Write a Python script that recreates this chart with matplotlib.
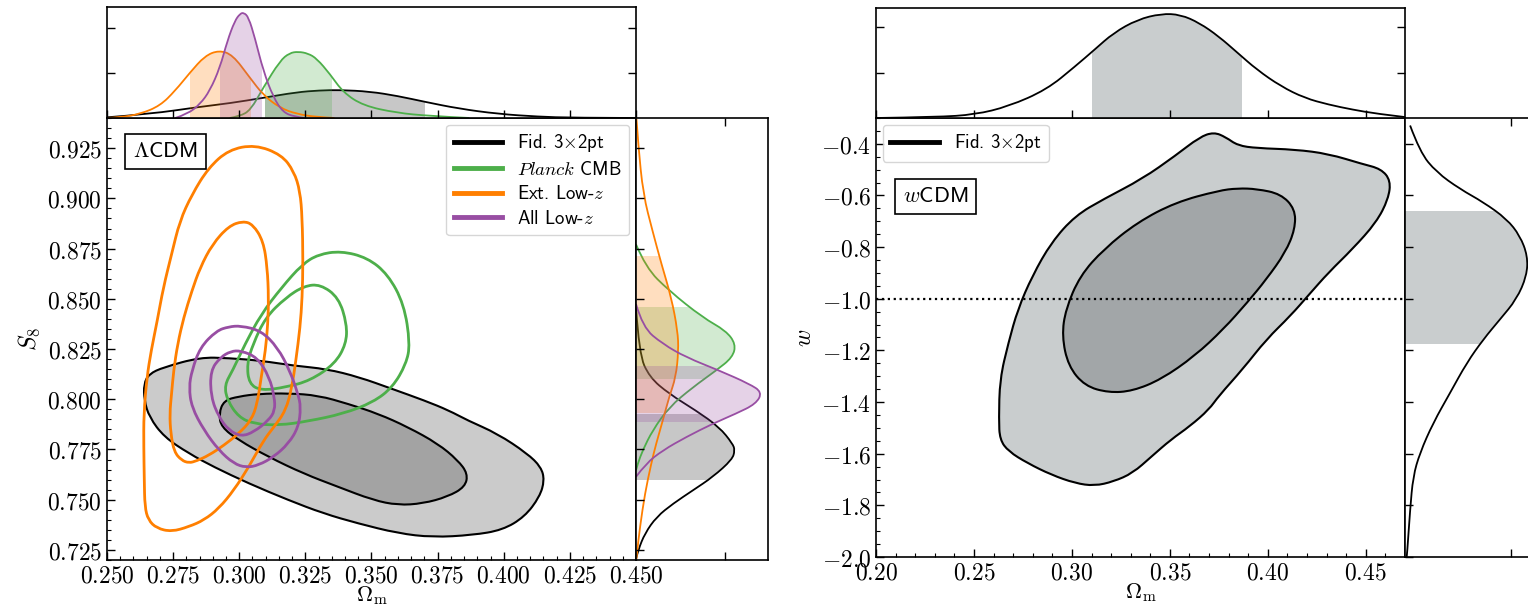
import matplotlib.pyplot as plt
from matplotlib.lines import Line2D
from matplotlib.patches import Rectangle, PathPatch
from matplotlib.path import Path
from matplotlib.ticker import MultipleLocator, FixedLocator, FuncFormatter

plt.rcParams['mathtext.fontset'] = 'cm'
SANS = ['cmss10', 'DejaVu Sans']

GREEN, ORANGE, PURPLE = '#4daf4a', '#ff7f00', '#984ea3'

# ---------------- LCDM panel : 2D contours (Omega_m, S8) ----------------
fid95_om = [0.2713, 0.2852, 0.296, 0.3083, 0.3207, 0.333, 0.3454, 0.3577, 0.3700, 0.3793, 0.3863,
            0.3976, 0.4089, 0.4141, 0.4154, 0.4136, 0.4079, 0.3995, 0.3882, 0.3731, 0.36, 0.3449,
            0.3318, 0.3186, 0.3036, 0.2904, 0.281, 0.2716, 0.266, 0.2641, 0.2639, 0.2659]
fid95_s8 = [0.8159, 0.8209, 0.8205, 0.8192, 0.8167, 0.8151, 0.8110, 0.8052, 0.7994, 0.7944, 0.7895,
            0.7829, 0.773, 0.7663, 0.7597, 0.7515, 0.7415, 0.7349, 0.7324, 0.7313, 0.7333, 0.7382,
            0.7432, 0.7498, 0.7581, 0.7663, 0.773, 0.7812, 0.7911, 0.7994, 0.8077, 0.8126]
fid68_om = [0.3073, 0.3186, 0.3299, 0.3412, 0.3525, 0.3637, 0.3751, 0.3826, 0.3864, 0.3854, 0.3788,
            0.3694, 0.36, 0.3506, 0.3374, 0.3243, 0.3111, 0.2998, 0.2932, 0.2923, 0.2942, 0.2998]
fid68_s8 = [0.8027, 0.803, 0.8019, 0.7977, 0.7928, 0.7862, 0.7779, 0.7697, 0.763, 0.7564, 0.7515,
            0.7481, 0.7473, 0.7498, 0.7564, 0.763, 0.7713, 0.7796, 0.7862, 0.7928, 0.7994, 0.8014]

pl95_om = [0.3384, 0.3484, 0.3562, 0.3623, 0.3646, 0.3631, 0.358, 0.3506, 0.3393, 0.3261, 0.3149,
           0.3055, 0.2998, 0.2955, 0.2944, 0.2975, 0.3022, 0.3083, 0.316, 0.3238, 0.3299]
pl95_s8 = [0.8738, 0.8705, 0.8622, 0.8473, 0.8275, 0.8176, 0.806, 0.7985, 0.7928, 0.7891, 0.787,
           0.7878, 0.7911, 0.7994, 0.807, 0.8143, 0.8275, 0.8424, 0.8556, 0.8672, 0.8721]
pl68_om = [0.3307, 0.3376, 0.3407, 0.3404, 0.3361, 0.3268, 0.3176, 0.3083, 0.3037, 0.3029, 0.3052,
           0.3099, 0.3176, 0.3245]
pl68_s8 = [0.8572, 0.8506, 0.8374, 0.8275, 0.8176, 0.8093, 0.806, 0.8043, 0.8077, 0.8176, 0.8275,
           0.8407, 0.8506, 0.8564]

ext95_om = [0.306, 0.316, 0.3207, 0.323, 0.3238, 0.3241, 0.3238, 0.323, 0.3214, 0.3199, 0.3176,
            0.3130, 0.3092, 0.3036, 0.298, 0.2923, 0.2867, 0.281, 0.2744, 0.2688, 0.2656, 0.2643,
            0.2641, 0.2639, 0.2639, 0.2651, 0.2667, 0.269, 0.2713, 0.2744, 0.2775, 0.2821, 0.2883, 0.296]
ext95_s8 = [0.9267, 0.9217, 0.9134, 0.9035, 0.8903, 0.8688, 0.8506, 0.8358, 0.8192, 0.806, 0.7944,
            0.7860, 0.7796, 0.7663, 0.7548, 0.7457, 0.7399, 0.7366, 0.7341, 0.7358, 0.7399, 0.7465,
            0.7597, 0.7762, 0.7928, 0.811, 0.8242, 0.8391, 0.8556, 0.8721, 0.8887, 0.9019, 0.9151, 0.9242]
ext68_om = [0.3014, 0.3052, 0.3091, 0.3106, 0.3111, 0.3108, 0.3099, 0.3083, 0.3068, 0.3045, 0.2998,
            0.2942, 0.2885, 0.2838, 0.281, 0.2782, 0.2754, 0.2741, 0.2737, 0.2744, 0.2752, 0.2767,
            0.279, 0.2821, 0.2852, 0.2898, 0.296]
ext68_s8 = [0.8887, 0.887, 0.8787, 0.8655, 0.8506, 0.8374, 0.8242, 0.811, 0.7977, 0.7895, 0.7829,
            0.7771, 0.7721, 0.7693, 0.7683, 0.7696, 0.7738, 0.7829, 0.7928, 0.8027, 0.8143, 0.8275,
            0.8407, 0.854, 0.8655, 0.8771, 0.8862]

all95_om = [0.3006, 0.3083, 0.3145, 0.3191, 0.3222, 0.3233, 0.3224, 0.3186, 0.313, 0.3073, 0.3026,
            0.2979, 0.2923, 0.2867, 0.282, 0.281, 0.2821, 0.2852, 0.2914, 0.296]
all95_s8 = [0.8366, 0.8341, 0.8258, 0.8143, 0.8027, 0.7961, 0.7862, 0.7779, 0.7713, 0.7672, 0.766,
            0.768, 0.7746, 0.7845, 0.7961, 0.8060, 0.8143, 0.8258, 0.8341, 0.8361]
all68_om = [0.3006, 0.3068, 0.3114, 0.3133, 0.3135, 0.3111, 0.3055, 0.3008, 0.2961, 0.2923, 0.2893,
            0.2891, 0.2929, 0.2968]
all68_s8 = [0.8242, 0.8209, 0.811, 0.8011, 0.7944, 0.7895, 0.7837, 0.7815, 0.7845, 0.7911, 0.8011,
            0.8143, 0.8209, 0.8239]

# 1D marginals, Omega_m (top panel, density units)
fid_m_om = [0.250, 0.2664, 0.2852, 0.2965, 0.3091, 0.3217, 0.3303, 0.3381, 0.3494, 0.3600, 0.3702,
            0.3829, 0.3980, 0.4130, 0.4262, 0.450]
fid_m_d = [0.3, 1.8, 5.0, 6.6, 9.0, 11.5, 12.3, 12.5, 11.8, 9.8, 7.2, 4.2, 1.8, 0.6, 0.1, 0.0]
pl_m_om = [0.2964, 0.3002, 0.3043, 0.3091, 0.3154, 0.3190, 0.3223, 0.3260, 0.3293, 0.3343, 0.3393,
           0.3469, 0.3595, 0.372, 0.387]
pl_m_d = [0.0, 0.8, 3.5, 13.6, 25.5, 29.0, 29.6, 28.8, 26.5, 19.6, 11.4, 5.5, 2.3, 0.9, 0.0]
ext_m_om = [0.250, 0.2551, 0.2626, 0.2701, 0.2758, 0.2814, 0.287, 0.2923, 0.2975, 0.304, 0.3091,
            0.3154, 0.3217, 0.3293, 0.336]
ext_m_d = [0.0, 0.3, 1.8, 5.5, 12.2, 20.3, 27.7, 30.2, 28.2, 18.0, 10.2, 4.5, 1.8, 0.4, 0.0]
all_m_om = [0.2758, 0.2805, 0.2852, 0.2889, 0.2927, 0.2955, 0.2983, 0.3003, 0.3017, 0.3035, 0.3059,
            0.3091, 0.3129, 0.3166, 0.3209, 0.3246]
all_m_d = [0.0, 1.8, 6.2, 12.2, 22.5, 34.4, 43.3, 46.5, 47.0, 45.0, 35.8, 21.0, 9.2, 2.5, 0.6, 0.0]

# 1D marginals, S8 (right panel, density units)
fid_m_s8 = [0.8457, 0.8226, 0.811, 0.8027, 0.7944, 0.7862, 0.7779, 0.7746, 0.7700, 0.7614, 0.7548,
            0.7481, 0.7415, 0.7333, 0.725, 0.7205]
fid_s_d = [0.0, 0.7, 3.0, 7.4, 13.4, 18.6, 21.6, 22.1, 21.5, 17.2, 12.8, 8.3, 4.6, 2.0, 0.5, 0.0]
pl_m_s8 = [0.8771, 0.8655, 0.854, 0.8407, 0.8341, 0.8275, 0.8209, 0.8143, 0.8060, 0.7961, 0.7845,
           0.7746, 0.7680, 0.7647]
pl_s_d = [0.0, 2.2, 7.4, 14.9, 20.1, 22.3, 21.6, 17.9, 12.7, 7.4, 3.7, 1.5, 0.4, 0.0]
ext_m_s8 = [0.9395, 0.9267, 0.902, 0.8837, 0.8672, 0.8506, 0.8341, 0.8242, 0.811, 0.8011, 0.7895,
            0.7779, 0.768, 0.7531, 0.7366, 0.7233, 0.7205]
ext_s_d = [0.1, 0.5, 1.6, 3.7, 5.7, 7.9, 9.3, 9.5, 8.9, 7.4, 6.0, 4.5, 3.4, 2.0, 0.9, 0.2, 0.1]
all_m_s8 = [0.8474, 0.8358, 0.8275, 0.8209, 0.8143, 0.8077, 0.8035, 0.7977, 0.7928, 0.7878, 0.7812,
            0.7746, 0.768, 0.7614]
all_s_d = [0.0, 1.5, 6.0, 11.2, 18.6, 25.3, 28.2, 26.8, 22.3, 17.1, 11.2, 6.0, 2.2, 0.0]

# 68% bands of the 1D marginals (lo, hi)
fid_band_om, fid_band_s8 = (0.3097, 0.3702), (0.7597, 0.7928)
pl_band_om, pl_band_s8 = (0.3097, 0.3349), (0.8103, 0.8460)
ext_band_om, ext_band_s8 = (0.2814, 0.3043), (0.7931, 0.8713)
all_band_om, all_band_s8 = (0.2927, 0.3086), (0.7886, 0.8168)

# ---------------- wCDM panel ----------------
w95_om = [0.3724, 0.3785, 0.3846, 0.3944, 0.4139, 0.431, 0.448, 0.4578, 0.4627, 0.4615, 0.4554,
          0.4432, 0.431, 0.4212, 0.4115, 0.3993, 0.3871, 0.3749, 0.37, 0.3602, 0.3505, 0.3407,
          0.331, 0.3212, 0.3115, 0.3017, 0.2895, 0.2773, 0.2676, 0.2632, 0.2627, 0.2632, 0.2676,
          0.2724, 0.2798, 0.2895, 0.3017, 0.3163, 0.3359, 0.3529, 0.3651]
w95_w = [-0.3547, -0.3741, -0.4065, -0.4168, -0.422, -0.4388, -0.4776, -0.497, -0.5423, -0.6135,
         -0.704, -0.8075, -0.8981, -0.9822, -1.0662, -1.1568, -1.2732, -1.3767, -1.4286, -1.4935,
         -1.5455, -1.6104, -1.6753, -1.7078, -1.7247, -1.7143, -1.6818, -1.6364, -1.5909, -1.5455,
         -1.4675, -1.3117, -1.1698, -1.0404, -0.911, -0.7816, -0.6781, -0.6135, -0.5358, -0.4453,
         -0.3741]
w68_om = [0.3944, 0.4066, 0.4139, 0.4139, 0.409, 0.3993, 0.3895, 0.3773, 0.3627, 0.3456, 0.331,
          0.3188, 0.3066, 0.2981, 0.2949, 0.2968, 0.3041, 0.3163, 0.3334, 0.3529, 0.3749, 0.3846]
w68_w = [-0.5747, -0.594, -0.6523, -0.7299, -0.8204, -0.924, -1.0145, -1.118, -1.2215, -1.312,
         -1.3573, -1.3638, -1.3379, -1.2603, -1.1439, -1.0404, -0.911, -0.8075, -0.704, -0.6264,
         -0.5811, -0.5721]
wm_om = [0.2, 0.231, 0.2505, 0.2676, 0.2871, 0.3017, 0.3115, 0.3212, 0.3334, 0.3456, 0.3554,
         0.3651, 0.3749, 0.3846, 0.3944, 0.4066, 0.4188, 0.431, 0.4432, 0.4554, 0.47]
wm_om_d = [0.0, 0.4, 1.5, 5.1, 12.5, 22.8, 30.1, 37.5, 43.4, 46.0, 45.6, 41.9, 36.0, 28.7, 21.3,
           14.0, 8.8, 5.9, 3.7, 1.9, 0.4]
wm_w = [-0.329, -0.432, -0.51, -0.575, -0.626, -0.691, -0.756, -0.834, -0.911, -1.002, -1.080,
        -1.157, -1.248, -1.364, -1.481, -1.597, -1.688, -1.817, -1.986, -2.0]
wm_w_d = [0.12, 0.35, 0.74, 1.29, 1.84, 2.39, 2.70, 2.88, 2.86, 2.62, 2.23, 1.84, 1.45, 1.06, 0.66,
          0.35, 0.19, 0.12, 0.05, 0.04]
w_band_om, w_band_w = (0.3102, 0.3866), (-1.177, -0.659)

legend_labels = ['Fid. 3$\\times$2pt', '$\\mathit{Planck}$ CMB', 'Ext. Low-$z$', 'All Low-$z$']
legend_colors = ['k', GREEN, ORANGE, PURPLE]

# ---------------- figure ----------------
W, H = 1528, 608
fig = plt.figure(figsize=(W / 100, H / 100), dpi=100)
TICKSIZE = 17


def add_ax(l, t, r, b):
    return fig.add_axes([l / W, 1 - b / H, (r - l) / W, (b - t) / H])


def style(ax):
    ax.tick_params(which='both', direction='in', top=False, right=False, labelsize=TICKSIZE)
    ax.tick_params(which='major', length=6, width=1)
    ax.tick_params(which='minor', length=3, width=0.8)
    ax.tick_params(axis='x', pad=2.5)
    for s in ax.spines.values():
        s.set_linewidth(1.2)


def smooth(xs, ys, closed=False):
    # quadratic bezier path through the read points (drawn by matplotlib's renderer)
    p = list(zip(xs, ys))
    n = len(p)

    def mid(a, b):
        return ((a[0] + b[0]) / 2, (a[1] + b[1]) / 2)

    if closed:
        verts, codes = [mid(p[-1], p[0])], [Path.MOVETO]
        for i in range(n):
            verts += [p[i], mid(p[i], p[(i + 1) % n])]
            codes += [Path.CURVE3, Path.CURVE3]
        verts.append(verts[0])
        codes.append(Path.CLOSEPOLY)
    else:
        verts, codes = [p[0]], [Path.MOVETO]
        for i in range(1, n - 1):
            end = p[i + 1] if i == n - 2 else mid(p[i], p[i + 1])
            verts += [p[i], end]
            codes += [Path.CURVE3, Path.CURVE3]
    return verts, codes


def contour(ax, xs, ys, fc, ec, lw, z):
    v, c = smooth(xs, ys, closed=True)
    ax.add_patch(PathPatch(Path(v, c), fc=fc, ec=ec, lw=lw, zorder=z))


def band(ax, x, d, lim, color, alpha, vertical=False, lw=1.3):
    if vertical:
        v, c = smooth(d, x)
        base = [(0, x[-1]), (0, x[0]), (0, x[0])]
        clip = Rectangle((0, lim[0]), 1e3, lim[1] - lim[0], transform=ax.transData)
    else:
        v, c = smooth(x, d)
        base = [(x[-1], 0), (x[0], 0), (x[0], 0)]
        clip = Rectangle((lim[0], 0), lim[1] - lim[0], 1e3, transform=ax.transData)
    fill = PathPatch(Path(v + base, c + [Path.LINETO, Path.LINETO, Path.CLOSEPOLY]),
                     fc=color, alpha=alpha, lw=0)
    ax.add_patch(fill)
    fill.set_clip_path(clip)
    ax.add_patch(PathPatch(Path(v, c), fc='none', ec=color if alpha < 1 else 'k', lw=lw))


def marg_ticks(ax, xt, yt, right=False, top=False):
    ax.tick_params(which='both', labelbottom=False, labelleft=False, right=right, top=top)
    ax.minorticks_off()
    ax.xaxis.set_major_locator(FixedLocator(xt) if isinstance(xt, list) else MultipleLocator(xt))
    ax.yaxis.set_major_locator(FixedLocator(yt) if isinstance(yt, list) else MultipleLocator(yt))


fmt3 = FuncFormatter(lambda v, p: f'${v:.3f}$')
fmt2 = FuncFormatter(lambda v, p: f'${v:.2f}$')
fmt1 = FuncFormatter(lambda v, p: f'${v:.1f}$')

# ---- LCDM main
axL = add_ax(107, 118, 636, 560)
style(axL)
contour(axL, fid95_om, fid95_s8, '#cbcbcb', 'k', 1.5, 1)
contour(axL, fid68_om, fid68_s8, '#a3a3a3', 'k', 1.5, 2)
for xs, ys, col in [(pl95_om, pl95_s8, GREEN), (pl68_om, pl68_s8, GREEN),
                    (ext95_om, ext95_s8, ORANGE), (ext68_om, ext68_s8, ORANGE),
                    (all95_om, all95_s8, PURPLE), (all68_om, all68_s8, PURPLE)]:
    contour(axL, xs, ys, 'none', col, 2.0, 3)
axL.set_xlim(0.25, 0.45)
axL.set_ylim(0.72, 0.94)
axL.xaxis.set_major_locator(MultipleLocator(0.025))
axL.xaxis.set_minor_locator(MultipleLocator(0.005))
axL.yaxis.set_major_locator(MultipleLocator(0.025))
axL.yaxis.set_minor_locator(MultipleLocator(0.005))
axL.xaxis.set_major_formatter(fmt3)
axL.yaxis.set_major_formatter(fmt3)
axL.set_xlabel(r'$\Omega_{\rm m}$', fontsize=16, labelpad=-2)
axL.set_ylabel(r'$S_8$', fontsize=17, labelpad=4)
handles = [Line2D([], [], color=c, lw=3.5) for c in legend_colors]
axL.legend(handles, legend_labels, loc='upper right', prop={'family': SANS, 'size': 13.5},
           handlelength=2.6, edgecolor='#cccccc', borderaxespad=0.35, labelspacing=0.35)
axL.text(0.049, 0.946, r'$\Lambda$CDM', transform=axL.transAxes, va='top', ha='left',
         fontsize=16, family=SANS,
         bbox=dict(boxstyle='square,pad=0.35', fc='white', ec='k', lw=1.2))

# ---- LCDM top marginal
axLt = add_ax(107, 7, 636, 118)
style(axLt)
band(axLt, fid_m_om, fid_m_d, fid_band_om, 'k', 0.22)
band(axLt, pl_m_om, pl_m_d, pl_band_om, GREEN, 0.25)
band(axLt, ext_m_om, ext_m_d, ext_band_om, ORANGE, 0.25)
band(axLt, all_m_om, all_m_d, all_band_om, PURPLE, 0.25)
axLt.set_xlim(0.25, 0.45)
axLt.set_ylim(0, 49.5)
marg_ticks(axLt, 0.025, [20, 40], right=True)

# ---- LCDM right marginal
axLr = add_ax(636, 118, 768, 560)
style(axLr)
band(axLr, fid_m_s8, fid_s_d, fid_band_s8, 'k', 0.22, vertical=True)
band(axLr, pl_m_s8, pl_s_d, pl_band_s8, GREEN, 0.25, vertical=True)
band(axLr, ext_m_s8, ext_s_d, ext_band_s8, ORANGE, 0.25, vertical=True)
band(axLr, all_m_s8, all_s_d, all_band_s8, PURPLE, 0.25, vertical=True)
axLr.set_ylim(0.72, 0.94)
axLr.set_xlim(0, 29.5)
marg_ticks(axLr, [20], 0.025, top=True)

# ---- wCDM main
axR = add_ax(876, 118, 1405, 557)
style(axR)
contour(axR, w95_om, w95_w, '#c9cdce', 'k', 1.5, 1)
contour(axR, w68_om, w68_w, '#a2a6a8', 'k', 1.5, 2)
axR.axhline(-1.0, color='k', ls=':', lw=1.6, zorder=3)
axR.set_xlim(0.2, 0.47)
axR.set_ylim(-2.0, -0.3)
axR.xaxis.set_major_locator(MultipleLocator(0.05))
axR.xaxis.set_minor_locator(MultipleLocator(0.01))
axR.yaxis.set_major_locator(MultipleLocator(0.2))
axR.yaxis.set_minor_locator(MultipleLocator(0.05))
axR.xaxis.set_major_formatter(fmt2)
axR.yaxis.set_major_formatter(fmt1)
axR.set_xlabel(r'$\Omega_{\rm m}$', fontsize=16, labelpad=-2)
axR.set_ylabel(r'$w$', fontsize=17, labelpad=4)
axR.legend([Line2D([], [], color='k', lw=3.5)], [legend_labels[0]], loc='upper left',
           prop={'family': SANS, 'size': 13.5}, handlelength=2.6, edgecolor='#cccccc',
           borderaxespad=0.35)
axR.text(0.051, 0.843, r'$w$CDM', transform=axR.transAxes, va='top', ha='left',
         fontsize=16, family=SANS,
         bbox=dict(boxstyle='square,pad=0.35', fc='white', ec='k', lw=1.2))

# ---- wCDM top marginal
axRt = add_ax(876, 8, 1405, 118)
style(axRt)
band(axRt, wm_om, wm_om_d, w_band_om, '#c9cdce', 1.0)
axRt.set_xlim(0.2, 0.47)
axRt.set_ylim(0, 48.5)
marg_ticks(axRt, 0.05, [20, 40], right=True)

# ---- wCDM right marginal (runs off the page, as in the source)
axRr = add_ax(1405, 118, 1537, 557)
style(axRr)
band(axRr, wm_w, wm_w_d, w_band_w, '#c9cdce', 1.0, vertical=True)
axRr.set_ylim(-2.0, -0.3)
axRr.set_xlim(0, 3.1)
marg_ticks(axRr, [2.5], 0.2, top=True)

fig.savefig('out.png', dpi=100)
